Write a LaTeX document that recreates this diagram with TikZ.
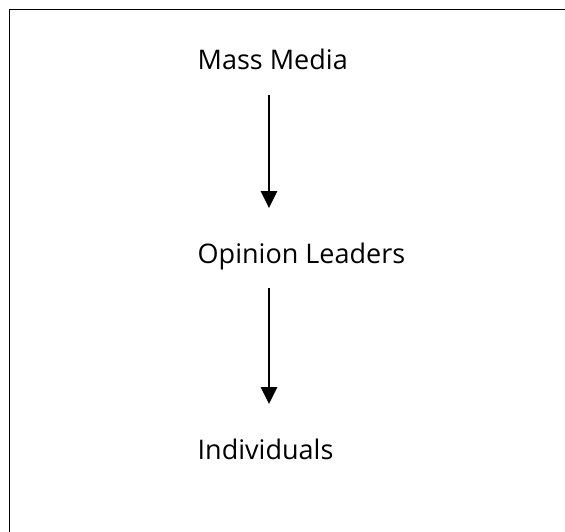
\documentclass[tikz,border=0pt]{standalone}
\usepackage{fontspec}
\setmainfont{Open Sans}
\usetikzlibrary{arrows.meta,calc}

\begin{document}
\begin{tikzpicture}[x=1pt,y=-1pt]

%%%%%%%%%%%%%%%%%%%%%%
%%%	  Geometry      %%%
%%%%%%%%%%%%%%%%%%%%%%

\def \largeur{565}
\def \hauteur{532}
\def \marge{9.5}
\def \xtexte{197.5}
\def \xfleche{269}
\def \haut{25}
\def \bas{55}

%%%%%%%%%%%%%%%%%%%%%%
%%%	   Styles       %%%
%%%%%%%%%%%%%%%%%%%%%%

\tikzset{
	etiquette/.style={anchor=base west, inner sep=0pt, font=\fontsize{27}{33}\selectfont},
	fleche/.style={line width=2.8pt, -{Triangle[width=16pt,length=17pt]}},
	cadre/.style={line width=1.7pt}
}

\useasboundingbox (0,0) rectangle (\largeur,\hauteur);
\clip (0,0) rectangle (\largeur,\hauteur);

% Cadre (coupe a droite et en bas)
\draw[cadre] (\marge,\marge) rectangle (\largeur+20,\hauteur+20);

%%%%%%%%%%%%%%%%%%%%%%
%%%	   Textes       %%%
%%%%%%%%%%%%%%%%%%%%%%

\node[etiquette] (media) at (\xtexte,70) {Mass Media};
\node[etiquette] (leaders) at (\xtexte,263) {Opinion Leaders};
\node[etiquette] (indiv) at (\xtexte,459) {Individuals};

%%%%%%%%%%%%%%%%%%%%%%
%%%	   Fleches      %%%
%%%%%%%%%%%%%%%%%%%%%%

\coordinate (m1) at ($(media.base west)+(\xfleche-\xtexte,\haut)$);
\coordinate (l0) at ($(leaders.base west)+(\xfleche-\xtexte,-\bas)$);
\coordinate (l1) at ($(leaders.base west)+(\xfleche-\xtexte,\haut)$);
\coordinate (i0) at ($(indiv.base west)+(\xfleche-\xtexte,-\bas)$);

\draw[fleche] (m1) -- (l0);
\draw[fleche] (l1) -- (i0);

\end{tikzpicture}
\end{document}
